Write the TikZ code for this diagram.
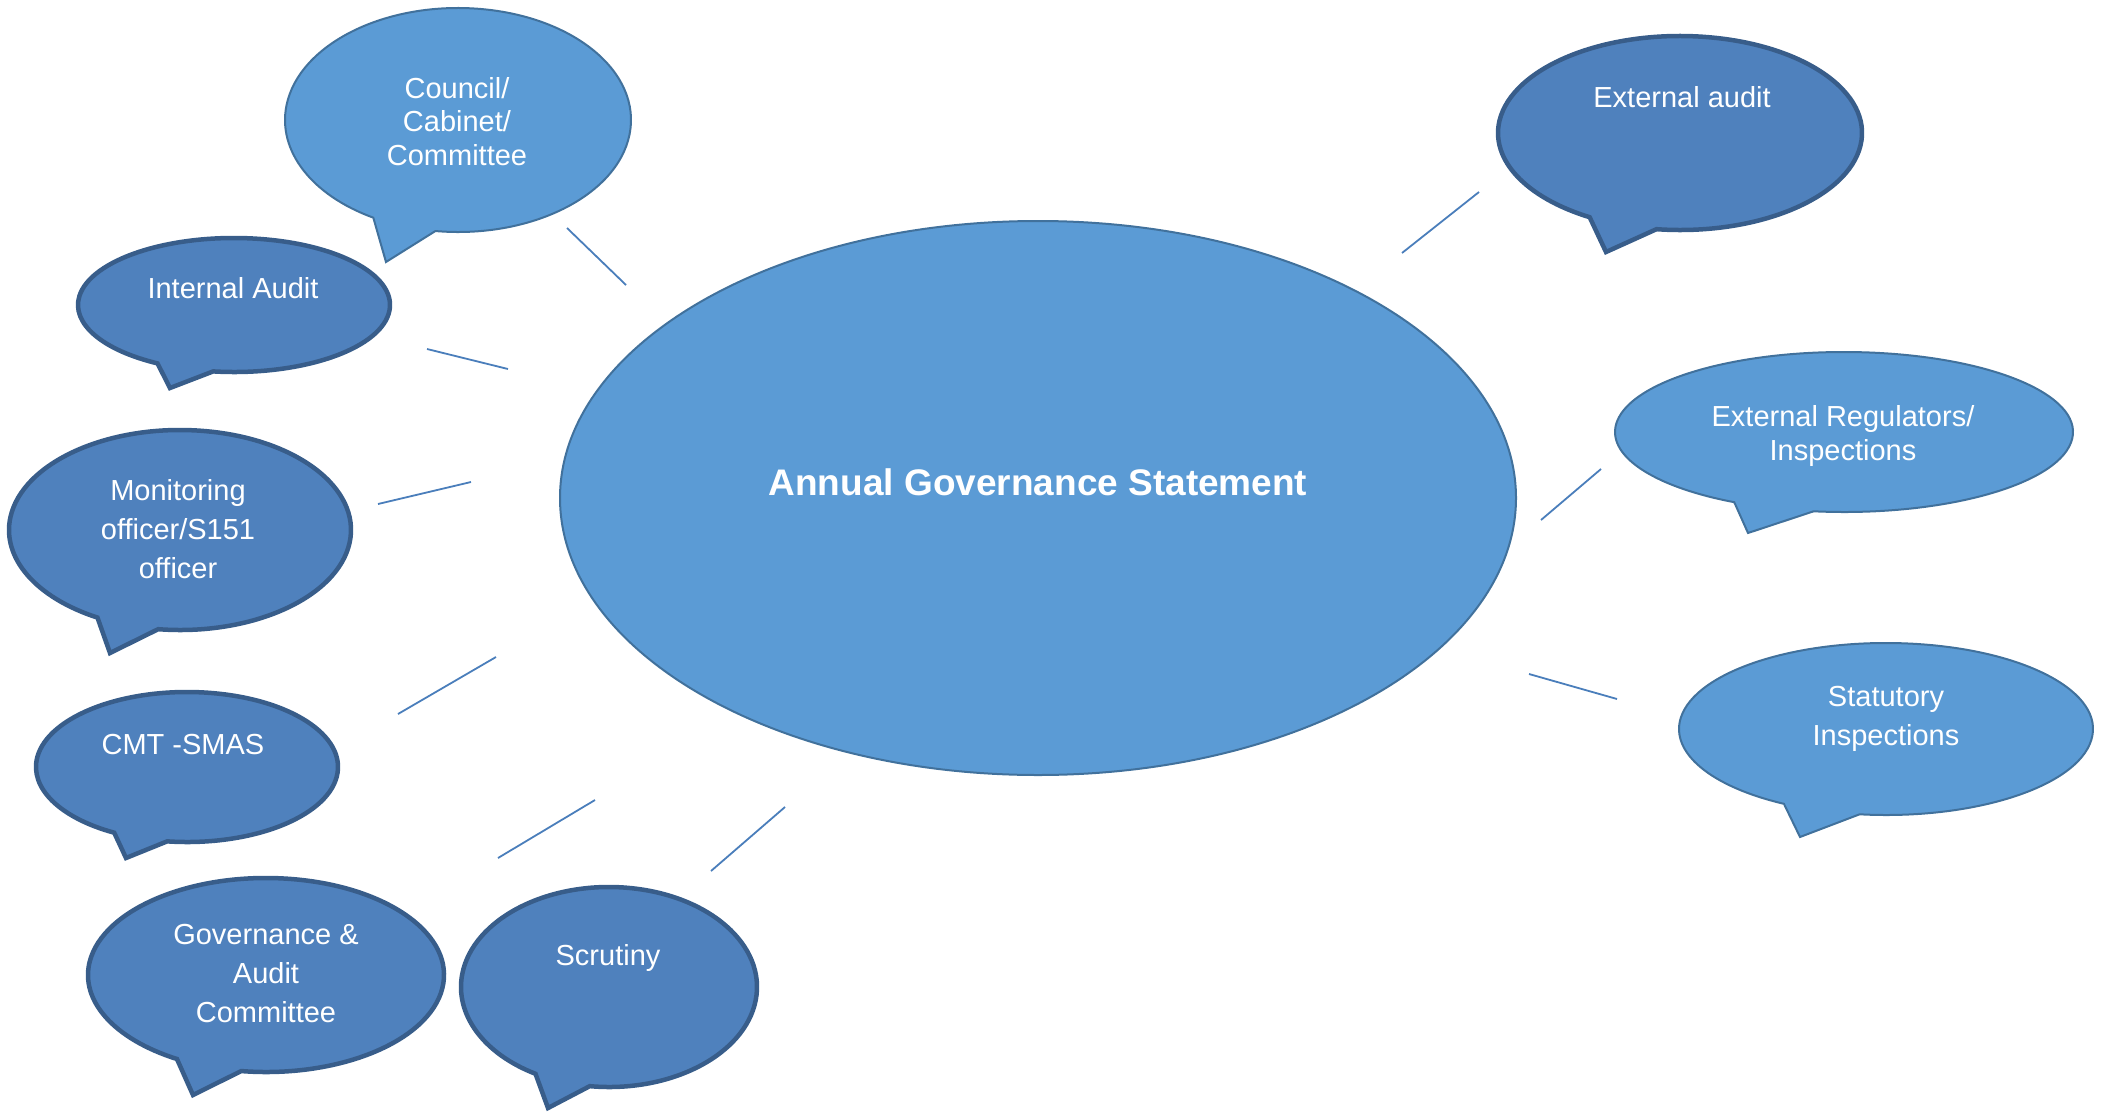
\documentclass[tikz,border=0pt]{standalone}
\usepackage{fontspec}
\setmainfont{Liberation Sans}
\definecolor{lightfill}{HTML}{5B9BD5}
\definecolor{lightborder}{HTML}{41719C}
\definecolor{darkfill}{HTML}{4F81BD}
\definecolor{darkborder}{HTML}{385D8A}
\definecolor{connblue}{HTML}{4A7EBB}
\newcommand\setell[4]{\def\ecx{#1}\def\ecy{#2}\def\erx{#3}\def\ery{#4}}
\newcommand\bubble[7]{%
  \pgfmathsetmacro\bbA{atan2(-(#3-\ecy)/\ery,(#2-\ecx)/\erx)+360}%
  \pgfmathsetmacro\bbC{atan2(-(#7-\ecy)/\ery,(#6-\ecx)/\erx)}%
  \path[#1] ([shift={(\ecx,-\ecy)}]\bbC:\erx pt and \ery pt)
    arc[start angle=\bbC, end angle=\bbA, x radius=\erx pt, y radius=\ery pt]
    -- (#4,-#5) -- cycle;}
\begin{document}
\begin{tikzpicture}[x=1pt,y=1pt,
  lightb/.style={fill=lightfill,draw=lightborder,line width=2pt,line join=miter},
  darkb/.style={fill=darkfill,draw=darkborder,line width=4.5pt,line join=miter},
  txt/.style={text=white,align=center,inner sep=0pt,font=\fontsize{29}{39}\selectfont},
  txts/.style={text=white,align=center,inner sep=0pt,font=\fontsize{29}{33.5}\selectfont},
  conn/.style={draw=connblue,line width=1.8pt}]
\useasboundingbox (0,0) rectangle (2101,-1111);

% central ellipse
\draw[fill=lightfill,draw=lightborder,line width=2pt] (1038,-498) ellipse [x radius=478, y radius=277];
\node[text=white,inner sep=0pt,font=\bfseries\fontsize{37}{44}\selectfont] (ags) at (1038,-482) {Annual Governance Statement};

% bubbles
\setell{458}{120}{173}{112}
\bubble{lightb}{373}{218}{386}{262}{435}{233}
\node[txts] (council) at (457,-121.5) {Council/\\Cabinet/\\Committee};

\setell{234}{305}{156}{67}
\bubble{darkb}{158}{363}{170}{388}{213}{372}
\node[txt] (internal) at (233,-288) {Internal Audit};

\setell{180}{530}{171}{100}
\bubble{darkb}{98}{617}{110}{653}{158}{630}
\node[txt] (monitor) at (178,-529) {Monitoring\\officer/S151\\officer};

\setell{187}{767}{151}{75}
\bubble{darkb}{115}{832}{126}{858}{167}{842}
\node[txt] (cmt) at (183,-745) {CMT -SMAS};

\setell{266}{975}{178}{97}
\bubble{darkb}{178}{1058}{193}{1095}{242}{1068}
\node[txt] (gov) at (266,-974) {Governance \&\\Audit\\Committee};

\setell{609}{987}{148}{100}
\bubble{darkb}{537}{1072}{548}{1108}{590}{1085}
\node[txt] (scrutiny) at (608,-958) {Scrutiny};

\setell{1680}{133}{182}{97}
\bubble{darkb}{1592}{215}{1606}{252}{1657}{227}
\node[txt] (extaudit) at (1682,-97) {External audit};

\setell{1844}{432}{229}{80}
\bubble{lightb}{1733}{503}{1748}{533}{1813}{513}
\node[txts] (extreg) at (1843,-436) {External Regulators/\\Inspections};

\setell{1886}{729}{207}{86}
\bubble{lightb}{1785}{803}{1800}{837}{1860}{813}
\node[txt] (statutory) at (1886,-719) {Statutory\\Inspections};

% connector strokes
\coordinate (c1a) at (567,-228);  \coordinate (c1b) at (626,-285);
\coordinate (c2a) at (427,-349);  \coordinate (c2b) at (508,-369);
\coordinate (c3a) at (378,-504);  \coordinate (c3b) at (471,-482);
\coordinate (c4a) at (398,-714);  \coordinate (c4b) at (496,-657);
\coordinate (c5a) at (498,-858);  \coordinate (c5b) at (595,-800);
\coordinate (c6a) at (711,-871);  \coordinate (c6b) at (785,-807);
\coordinate (c7a) at (1402,-253); \coordinate (c7b) at (1479,-192);
\coordinate (c8a) at (1541,-520); \coordinate (c8b) at (1601,-469);
\coordinate (c9a) at (1529,-674); \coordinate (c9b) at (1617,-699);
\draw[conn] (c1a) -- (c1b);
\draw[conn] (c2a) -- (c2b);
\draw[conn] (c3a) -- (c3b);
\draw[conn] (c4a) -- (c4b);
\draw[conn] (c5a) -- (c5b);
\draw[conn] (c6a) -- (c6b);
\draw[conn] (c7a) -- (c7b);
\draw[conn] (c8a) -- (c8b);
\draw[conn] (c9a) -- (c9b);
\end{tikzpicture}
\end{document}
